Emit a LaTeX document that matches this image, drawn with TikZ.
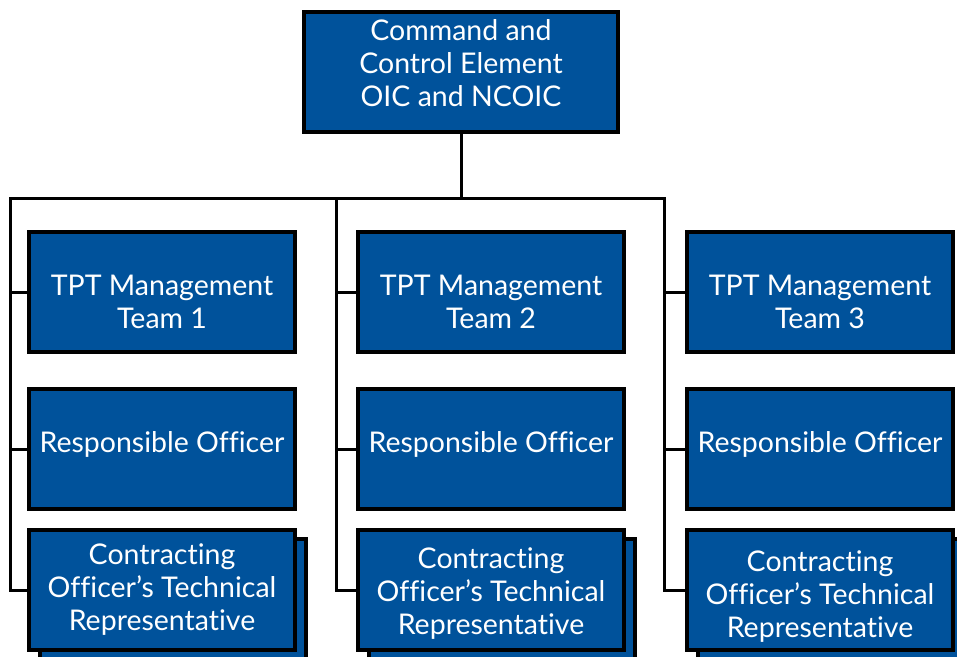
\documentclass[tikz,border=0pt]{standalone}
\usepackage{fontspec}
\setmainfont{Lato}[Ligatures=NoCommon]
\definecolor{orgblue}{RGB}{0,82,155}
\tikzset{
  unit/.style={draw=black,line width=4pt,fill=orgblue,text=white,align=center,
    minimum width=266pt,minimum height=120pt,inner sep=0pt,
    font=\fontsize{28.5}{33}\selectfont},
  conn/.style={line width=3pt,line cap=rect}
}
\begin{document}
\begin{tikzpicture}[x=1pt,y=-1pt]
\useasboundingbox (0,0) rectangle (957,656);

% Command box
\node[unit,minimum width=314pt,text depth=18pt] (cmd) at (461,72) {Command and\\Control Element\\OIC and NCOIC};

% Teams
\node[unit,text height=73pt] (tpt1) at (162,292) {TPT Management\\Team 1};
\node[unit,text height=73pt] (tpt2) at (491,292) {TPT Management\\Team 2};
\node[unit,text height=73pt] (tpt3) at (820,292) {TPT Management\\Team 3};

\node[unit,text depth=15pt] (ro1) at (162,449) {Responsible Officer};
\node[unit,text depth=15pt] (ro2) at (491,449) {Responsible Officer};
\node[unit,text depth=15pt] (ro3) at (820,449) {Responsible Officer};

% COTR boxes with stacked copy behind
\node[unit] (cotr1b) at (173,599) {};
\node[unit] (cotr2b) at (502,599) {};
\node[unit] (cotr3b) at (831,599) {};
\node[unit] (cotr1) at (162,590) {Contracting\\Officer’s Technical\\Representative};
\node[unit,text height=93pt] (cotr2) at (491,590) {Contracting\\Officer’s Technical\\Representative};
\node[unit,text height=99pt] (cotr3) at (820,590) {Contracting\\Officer’s Technical\\Representative};

% Connectors
\coordinate (bus1) at (10,198);
\coordinate (bus2) at (336,198);
\coordinate (bus3) at (664,198);
\draw[conn] (cmd.south) -- (cmd.south |- bus1);
\draw[conn] (bus1) -- (bus3);
\draw[conn] (bus1) |- (cotr1.west);
\draw[conn] (bus2) |- (cotr2.west);
\draw[conn] (bus3) |- (cotr3.west);
\draw[conn] (bus1 |- tpt1.west) -- (tpt1.west);
\draw[conn] (bus2 |- tpt2.west) -- (tpt2.west);
\draw[conn] (bus3 |- tpt3.west) -- (tpt3.west);
\draw[conn] (bus1 |- ro1.west) -- (ro1.west);
\draw[conn] (bus2 |- ro2.west) -- (ro2.west);
\draw[conn] (bus3 |- ro3.west) -- (ro3.west);
\end{tikzpicture}
\end{document}
